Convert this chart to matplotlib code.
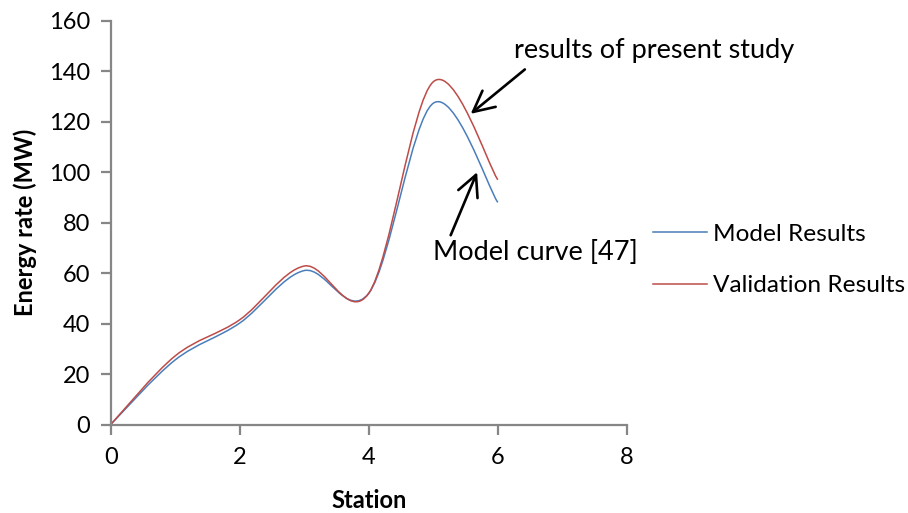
import numpy as np
import matplotlib
matplotlib.use('Agg')
import matplotlib.pyplot as plt
from matplotlib.path import Path
from matplotlib.patches import PathPatch
from matplotlib.lines import Line2D

#--------------------------------------------
# data
station = [0, 1, 2, 3, 4, 5, 6]
model = [0, 25.6, 40.2, 61.0, 52.0, 127.3, 88.0]
validation = [0, 27.2, 41.5, 62.8, 52.0, 135.8, 97.0]
xticks = [0, 2, 4, 6, 8]
yticks = [0, 20, 40, 60, 80, 100, 120, 140, 160]
#--------------------------------------------

blue = '#4A7EBB'
red = '#BE4B48'
gray = '#868686'
fsize = 17
afsize = 19.5

plt.rcParams['font.family'] = ['Lato', 'DejaVu Sans']


def smooth_path(xs, ys):
    # excel style smoothed line: cubic bezier through the points
    pts = np.column_stack([xs, ys]).astype(float)
    n = len(pts)
    verts = [pts[0]]
    codes = [Path.MOVETO]
    for i in range(n - 1):
        p0 = pts[i - 1] if i > 0 else pts[i]
        p1 = pts[i]
        p2 = pts[i + 1]
        p3 = pts[i + 2] if i + 2 < n else pts[i + 1]
        verts += [p1 + (p2 - p0) / 6.0, p2 - (p3 - p1) / 6.0, p2]
        codes += [Path.CURVE4] * 3
    return Path(verts, codes)


fig = plt.figure(figsize=(9.08, 5.13), dpi=100)
ax = fig.add_axes([0.1219, 0.1725, 0.5684, 0.7871])

ax.add_patch(PathPatch(smooth_path(station, model), fill=False, edgecolor=blue, lw=1.1))
ax.add_patch(PathPatch(smooth_path(station, validation), fill=False, edgecolor=red, lw=1.1))

ax.set_xlim(0, 8)
ax.set_ylim(0, 160)
ax.set_xticks(xticks)
ax.set_yticks(yticks)

for s in ['top', 'right']:
    ax.spines[s].set_visible(False)
for s in ['left', 'bottom']:
    ax.spines[s].set_color(gray)
    ax.spines[s].set_linewidth(1.6)
ax.tick_params(direction='out', length=7, width=1.6, color=gray, labelsize=fsize)
ax.tick_params(axis='x', pad=9)
ax.tick_params(axis='y', pad=8)

ax.set_xlabel('Station', fontsize=fsize, fontweight='bold', labelpad=15)
ax.set_ylabel('Energy rate (MW)', fontsize=fsize, fontweight='bold', labelpad=8)

handles = [Line2D([], [], color=blue, lw=1.1), Line2D([], [], color=red, lw=1.1)]
fig.legend(handles, ['Model Results', 'Validation Results'], loc='center left',
           bbox_to_anchor=(0.695, 0.493), frameon=False, fontsize=17.6,
           handlelength=2.2, handletextpad=0.25, labelspacing=1.25)

arrow = dict(arrowstyle='->,head_length=0.6,head_width=0.3', color='black',
             lw=1.9, mutation_scale=25, shrinkA=0, shrinkB=0)
ax.text(8.42, 148.2, 'results of present study', fontsize=afsize,
        ha='center', va='center', clip_on=False)
ax.annotate('', xy=(5.58, 123.1), xytext=(6.42, 140.7), arrowprops=arrow)
ax.text(6.58, 68.3, 'Model curve [47]', fontsize=afsize,
        ha='center', va='center', clip_on=False)
ax.annotate('', xy=(5.68, 100.0), xytext=(5.27, 75.0), arrowprops=arrow)

plt.savefig('out.png', dpi=100)
